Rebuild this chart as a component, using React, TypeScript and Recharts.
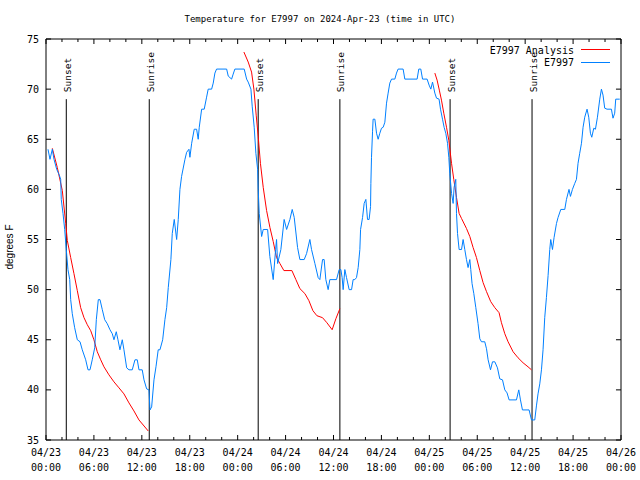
import React from "react";
import { LineChart, Line, XAxis, YAxis, ReferenceLine } from "recharts";

// --- observed temperatures (hours since 04/23 00:00 UTC, degrees F)
const obsHours = [
  0.25, 0.5, 0.79, 1.0, 1.34, 1.63, 1.84, 1.91, 2.13, 2.34, 2.54, 2.75, 2.97, 3.09, 3.29, 3.59, 3.92, 4.26,
  4.54, 4.97, 5.26, 5.51, 5.79, 6.1, 6.3, 6.55, 6.76, 7.05, 7.35, 7.67, 8.01, 8.3, 8.51, 8.8, 9.01, 9.26,
  9.55, 9.76, 10.1, 10.39, 10.8, 11.14, 11.43, 11.64, 12.05, 12.27, 12.6, 12.89, 13.02, 13.23, 13.52, 13.77,
  14.05, 14.27, 14.61, 14.89, 15.11, 15.31, 15.64, 15.81, 16.06, 16.36, 16.56, 16.77, 16.98, 17.4, 17.61,
  17.9, 18.02, 18.24, 18.56, 18.86, 19.06, 19.19, 19.49, 19.81, 20.11, 20.31, 20.74, 20.94, 21.15, 21.36,
  22.62, 22.82, 23.24, 23.44, 23.65, 24.82, 25.12, 25.32, 25.66, 25.82, 26.07, 26.28, 26.5, 26.57, 26.7,
  27.0, 27.2, 27.75, 28.03, 28.45, 28.75, 28.87, 29.0, 29.41, 29.82, 30.13, 30.54, 30.83, 31.08, 31.5,
  31.79, 32.33, 32.63, 33.04, 33.25, 33.67, 34.08, 34.29, 34.63, 34.83, 35.04, 35.33, 35.54, 36.38, 36.71,
  36.92, 37.08, 37.21, 37.42, 37.63, 37.96, 38.26, 38.46, 38.67, 38.88, 39.09, 39.3, 39.39, 39.64, 39.84,
  40.05, 40.26, 40.46, 40.64, 40.68, 40.76, 40.89, 40.96, 41.18, 41.39, 41.59, 41.8, 42.01, 42.22, 42.43,
  42.64, 42.84, 43.05, 43.27, 43.68, 43.89, 44.09, 44.72, 44.93, 46.47, 46.68, 46.93, 47.15, 47.72, 47.97,
  48.19, 48.4, 48.69, 48.9, 49.22, 49.4, 49.65, 49.85, 50.06, 50.28, 50.44, 50.56, 50.78, 50.98, 51.1,
  51.31, 51.4, 51.53, 51.73, 52.03, 52.23, 52.44, 52.65, 52.85, 53.07, 53.19, 53.35, 53.57, 53.82, 54.1,
  54.32, 54.53, 54.94, 55.16, 55.36, 55.66, 55.91, 56.2, 56.53, 56.82, 57.16, 57.45, 57.73, 57.99, 58.91,
  59.2, 59.41, 59.66, 60.49, 60.79, 61.2, 61.41, 61.61, 61.83, 62.04, 62.24, 62.45, 62.66, 62.87, 63.08,
  63.2, 63.42, 63.62, 63.92, 64.12, 64.46, 64.96, 65.17, 65.49, 65.67, 65.92, 66.21, 66.42, 66.62, 66.83,
  67.05, 67.25, 67.46, 67.75, 67.96, 68.17, 68.34, 68.59, 68.8, 69.05, 69.34, 69.55, 69.75, 69.96, 70.25,
  70.8, 71.0, 71.21, 71.34, 71.84,
];
const obsTemps = [
  64, 63, 64, 63, 62, 61.5, 61, 59, 57.6, 56, 54, 52, 51, 49, 47.6, 46.2, 45, 44.8,
  44, 43, 42, 42, 43, 44.2, 47, 49, 49, 48, 47, 46.6, 46, 45.6, 45, 45.8, 45, 44,
  45, 44, 42.2, 42, 42, 43, 43, 42, 42, 41, 40.1, 40, 38, 38.3, 41, 42.3,
  44, 44, 45, 47, 48.2, 50.2, 53, 55.6, 57, 55, 57, 60, 61.3, 63, 63.7,
  64, 63.2, 64.6, 66, 66, 65, 66.2, 68, 68, 69.2, 70, 70, 70.6, 71.6, 72,
  72, 71.3, 71, 71.5, 72, 72, 71, 70.7, 70, 68.3, 66.2, 63.6, 62, 60, 57.6,
  55.3, 56, 56, 53.3, 51, 54, 55, 52.6, 54, 57, 56, 57, 58, 57.2, 54.2,
  53, 53, 53.6, 55, 54, 52.6, 51.2, 51, 53, 53, 51, 50, 51, 51, 52,
  52, 51.2, 50, 52, 51.2, 50, 50, 51, 51, 51.2, 52.2, 54, 56, 57.2, 58.6,
  59, 57, 57, 58.3, 60.6, 63.2, 65.8, 67, 67, 65.6, 65, 65.6, 66.1, 66.2, 66.7,
  68.6, 69.6, 70.6, 71, 71, 71.6, 72, 72, 71, 71, 72, 72, 71, 71, 70.4,
  70, 70.7, 69.6, 69.1, 69, 68, 67, 66.2, 65.6, 64.6, 63.2, 61.6, 59.6, 58.6, 60.2,
  61, 57.6, 55.6, 54, 54, 55, 54, 53, 52.2, 53, 52, 50.6, 49.6, 48.2, 46.6,
  45.1, 44.8, 44.8, 44.1, 43, 42, 42.8, 42.8, 42.2, 41.1, 41, 40, 39.7, 39, 39,
  40, 39, 38, 38, 37, 37, 38.4, 39.6, 40.6, 42, 44, 47.2, 49.2, 51.4, 54,
  55, 54, 55.2, 56.6, 57.2, 58, 58, 59, 60, 59.3, 60, 60.6, 61, 62.6, 63.6,
  64.6, 66.2, 67.2, 68, 67.2, 65.6, 65.2, 66.1, 66, 67.2, 69, 70, 69.4, 68.1, 68,
  68, 67.1, 67.6, 69, 69,
];

// --- analysis, three night-time pieces
const anlHoursA = [0.79, 1.41, 2.04, 2.47, 2.67, 3.09, 3.5, 3.92, 4.34, 4.76, 5.17, 5.6, 6.0, 6.42, 6.85, 7.26, 7.88, 8.51, 9.14, 9.76, 10.39, 11.01, 11.64, 12.8];
const anlTempsA = [64.1, 62.2, 59.9, 56.6, 54.9, 53.2, 51.6, 49.9, 48.2, 47.2, 46.5, 45.9, 45.0, 43.8, 43.0, 42.3, 41.5, 40.8, 40.2, 39.6, 38.7, 37.9, 37.0, 35.9];
const anlHoursB = [24.78, 25.32, 25.74, 26.03, 26.32, 26.57, 26.85, 27.2, 27.62, 28.04, 28.45, 28.87, 29.29, 29.79, 30.79, 31.29, 31.79, 32.42, 32.92, 33.42, 33.92, 34.63, 35.17, 35.83, 36.3, 36.8];
const anlTempsB = [73.7, 72.7, 71.7, 70.0, 67.4, 65.3, 62.6, 60.2, 57.9, 56.2, 54.8, 53.2, 52.6, 51.9, 51.9, 51.0, 50.1, 49.6, 48.9, 47.9, 47.4, 47.2, 46.7, 46.0, 47.1, 48.1];
const anlHoursC = [48.69, 48.97, 49.25, 49.52, 49.81, 50.15, 50.44, 50.78, 51.06, 51.4, 51.73, 52.03, 52.65, 53.07, 53.48, 53.9, 54.32, 54.73, 55.16, 55.69, 56.2, 56.73, 57.03, 57.45, 57.86, 58.49, 59.11, 59.74, 60.36, 60.79];
const anlTempsC = [71.6, 70.9, 69.9, 68.9, 67.6, 66.2, 64.9, 62.6, 61.0, 59.2, 57.6, 57.1, 56.1, 55.3, 54.2, 53.2, 51.9, 50.7, 49.8, 48.8, 48.2, 47.7, 46.7, 45.6, 44.8, 43.8, 43.2, 42.7, 42.3, 42.0];

// --- sun events
const sunHours = [2.54, 12.93, 26.57, 36.8, 50.6, 60.86];
const sunLabels = ["Sunset", "Sunrise", "Sunset", "Sunrise", "Sunset", "Sunrise"];
const sunLineTop = 69;

// --- axis ticks
const xTicks = [0, 6, 12, 18, 24, 30, 36, 42, 48, 54, 60, 66, 72];
const xTickDates = ["04/23", "04/23", "04/23", "04/23", "04/24", "04/24", "04/24", "04/24", "04/25", "04/25", "04/25", "04/25", "04/26"];
const xTickTimes = ["00:00", "06:00", "12:00", "18:00", "00:00", "06:00", "12:00", "18:00", "00:00", "06:00", "12:00", "18:00", "00:00"];
const xMinorTicks = [2, 4, 8, 10, 14, 16, 20, 22, 26, 28, 32, 34, 38, 40, 44, 46, 50, 52, 56, 58, 62, 64, 68, 70];
const yTicks = [35, 40, 45, 50, 55, 60, 65, 70, 75];

const X0 = 0, X1 = 72, Y0 = 35, Y1 = 75;
// inward tick lengths in axis units (about 5px major / 3px minor)
const TX_MAJ = 0.5, TX_MIN = 0.3, TY_MAJ = 0.63;

const toRows = (hs: number[], vs: number[]) => hs.map((h, i) => ({ h, v: vs[i] }));
const obsData = toRows(obsHours, obsTemps);
const anlPieces = [toRows(anlHoursA, anlTempsA), toRows(anlHoursB, anlTempsB), toRows(anlHoursC, anlTempsC)];

const MONO = "'DejaVu Sans Mono', 'Liberation Mono', monospace";
const BLUE = "#0080ff";
const RED = "#ff0000";

const DateTick = ({ x, y, payload }: any) => {
  const i = xTicks.indexOf(payload.value);
  return (
    <text x={x} y={y} textAnchor="middle" fontFamily={MONO} fontSize={10} fill="#000">
      <tspan x={x} dy={16}>{xTickDates[i]}</tspan>
      <tspan x={x} dy={15}>{xTickTimes[i]}</tspan>
    </text>
  );
};

const SunLabel = ({ viewBox, text }: any) => {
  const x = viewBox.x + 4.5;
  const y = viewBox.y - 7;
  return (
    <text x={x} y={y} transform={`rotate(-90 ${x} ${y})`} fontFamily={MONO} fontSize={9.5} fill="#000">
      {text}
    </text>
  );
};

// short black segment drawn through the chart's own scales
const seg = (key: string, a: [number, number], b: [number, number]) => (
  <ReferenceLine key={key} xAxisId="main" yAxisId="main" stroke="#000" strokeWidth={1} ifOverflow="visible"
    segment={[{ x: a[0], y: a[1] }, { x: b[0], y: b[1] }]} />
);

export default function App() {
  return (
    <div style={{ position: "absolute", left: 0, top: 0, width: 640, height: 480, background: "#fff" }}>
      <LineChart width={640} height={480} margin={{ top: 39, right: 19, left: 0, bottom: 0 }}>
        <XAxis xAxisId="main" type="number" dataKey="h" domain={[X0, X1]} ticks={xTicks} allowDataOverflow
          height={40} tickLine={false} tickSize={0} tickMargin={0} axisLine={{ stroke: "#000" }}
          tick={<DateTick />} interval={0} />
        <YAxis yAxisId="main" type="number" domain={[Y0, Y1]} ticks={yTicks} width={46} tickLine={false}
          tickSize={0} tickMargin={7} axisLine={{ stroke: "#000" }} interval={0} allowDataOverflow
          tick={{ fontFamily: MONO, fontSize: 10, fill: "#000" }} />

        {/* frame: top and right border */}
        {seg("top", [X0, Y1], [X1, Y1])}
        {seg("right", [X1, Y0], [X1, Y1])}

        {/* inward ticks on all four sides */}
        {xTicks.map((h) => seg("bM" + h, [h, Y0], [h, Y0 + TX_MAJ]))}
        {xTicks.map((h) => seg("tM" + h, [h, Y1], [h, Y1 - TX_MAJ]))}
        {xMinorTicks.map((h) => seg("bm" + h, [h, Y0], [h, Y0 + TX_MIN]))}
        {xMinorTicks.map((h) => seg("tm" + h, [h, Y1], [h, Y1 - TX_MIN]))}
        {yTicks.map((v) => seg("l" + v, [X0, v], [X0 + TY_MAJ, v]))}
        {yTicks.map((v) => seg("r" + v, [X1, v], [X1 - TY_MAJ, v]))}

        {sunHours.map((h, i) => (
          <ReferenceLine key={"sun" + i} xAxisId="main" yAxisId="main" stroke="#000" strokeWidth={1}
            segment={[{ x: h, y: Y0 }, { x: h, y: sunLineTop }]}
            label={<SunLabel text={sunLabels[i]} />} />
        ))}

        {anlPieces.map((d, i) => (
          <Line key={"anl" + i} xAxisId="main" yAxisId="main" data={d} dataKey="v" type="linear"
            stroke={RED} strokeWidth={1} dot={false} activeDot={false} isAnimationActive={false} />
        ))}
        <Line xAxisId="main" yAxisId="main" data={obsData} dataKey="v" type="linear"
          stroke={BLUE} strokeWidth={1} dot={false} activeDot={false} isAnimationActive={false} />
      </LineChart>

      {/* --- title, y label and legend drawn on top --- */}
      <svg width={640} height={480} style={{ position: "absolute", left: 0, top: 0, pointerEvents: "none" }}>
        <text x={320} y={22} textAnchor="middle" fontFamily={MONO} fontSize={9} fill="#000">
          Temperature for E7997 on 2024-Apr-23 (time in UTC)
        </text>
        <text x={13} y={247} transform="rotate(-90 13 247)" textAnchor="middle"
          fontFamily="'Liberation Sans', Arial, sans-serif" fontSize={10} fill="#000">
          degrees F
        </text>
        <text x={574} y={53.5} textAnchor="end" fontFamily={MONO} fontSize={10} fill="#000">E7997 Analysis</text>
        <line x1={581} y1={49.5} x2={610} y2={49.5} stroke={RED} strokeWidth={1} />
        <text x={574} y={66} textAnchor="end" fontFamily={MONO} fontSize={10} fill="#000">E7997</text>
        <line x1={581} y1={62.5} x2={610} y2={62.5} stroke={BLUE} strokeWidth={1} />
      </svg>
    </div>
  );
}
